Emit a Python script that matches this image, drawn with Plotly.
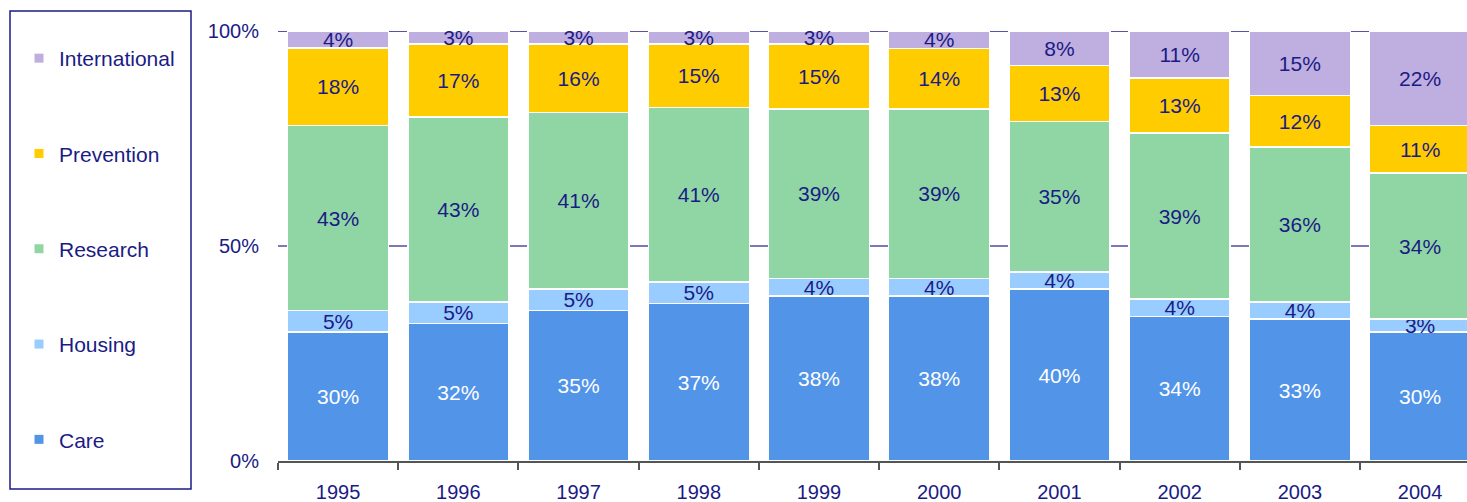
import plotly.graph_objects as go

years = ["1995", "1996", "1997", "1998", "1999", "2000", "2001", "2002", "2003", "2004"]
care = [30, 32, 35, 37, 38, 38, 40, 34, 33, 30]
housing = [5, 5, 5, 5, 4, 4, 4, 4, 4, 3]
research = [43, 43, 41, 41, 39, 39, 35, 39, 36, 34]
prevention = [18, 17, 16, 15, 15, 14, 13, 13, 12, 11]
international = [4, 3, 3, 3, 3, 4, 8, 11, 15, 22]

series_names = ["Care", "Housing", "Research", "Prevention", "International"]
series_values = [care, housing, research, prevention, international]
colors = ["#5294e8", "#99ccff", "#90d6a4", "#ffcc00", "#bfaee0"]
text_colors = ["#ffffff", "#1b1b85", "#1b1b85", "#1b1b85", "#1b1b85"]

NAVY = "#1b1b85"
FONT = "Liberation Sans, Arial, sans-serif"

fig = go.Figure()
for name, vals, col, tcol in zip(series_names, series_values, colors, text_colors):
    fig.add_trace(go.Bar(
        x=years, y=vals, name=name,
        marker=dict(color=col, line=dict(color="white", width=1.5)),
        text=[f"{v}%" for v in vals],
        textposition="inside", insidetextanchor="middle", textangle=0,
        constraintext="none",
        textfont=dict(family=FONT, size=21, color=tcol),
        showlegend=False, hoverinfo="skip",
    ))

# legend entries (small square markers)
for name, col in zip(series_names[::-1], colors[::-1]):
    fig.add_trace(go.Scatter(
        x=[None], y=[None], mode="markers", name=name,
        marker=dict(symbol="square", size=9, color=col),
        legendgroup=name, showlegend=True,
    ))

W, H = 1467, 502
ML, MR, MT, MB = 278, 0, 31, 41
pw = W - ML - MR
ph = H - MT - MB

def px_x(p):
    return (p - ML) / pw

def px_y(p):
    return (H - MB - p) / ph

fig.update_layout(
    width=W, height=H,
    margin=dict(l=ML, r=MR, t=MT, b=MB, autoexpand=False),
    barmode="stack", barnorm="percent", bargap=0.16,
    plot_bgcolor="white", paper_bgcolor="white",
    font=dict(family=FONT, color=NAVY, size=20),
    legend=dict(
        x=px_x(19), y=px_y(38), xanchor="left", yanchor="top",
        traceorder="grouped", tracegroupgap=65, maxheight=480,
        font=dict(family=FONT, size=21, color=NAVY),
        bgcolor="rgba(0,0,0,0)", borderwidth=0,
    ),
    xaxis=dict(
        type="category", range=[-0.5, 9.39],
        showline=True, linecolor="#555555", linewidth=1.5,
        ticks="outside", tickson="boundaries", ticklen=7, tickcolor="#555555", tickwidth=1.5,
        tickfont=dict(family=FONT, size=20, color=NAVY),
        ticklabelstandoff=12,
        showgrid=False, zeroline=False,
    ),
    yaxis=dict(
        range=[0, 100], tickvals=[0, 50, 100], ticktext=["0%", "50%", "100%"],
        showgrid=True, gridcolor="#7a7ab8", gridwidth=1.5,
        zeroline=False, showline=False, ticks="",
        tickfont=dict(family=FONT, size=20, color=NAVY),
        ticklabelstandoff=18,
    ),
    shapes=[
        dict(type="line", xref="paper", yref="y", x0=0, x1=1, y0=100, y1=100,
             line=dict(color=NAVY, width=1.5), layer="below"),
        dict(type="rect", xref="paper", yref="paper",
             x0=px_x(10), x1=px_x(191), y0=px_y(489), y1=px_y(11),
             line=dict(color=NAVY, width=1.5), fillcolor="rgba(0,0,0,0)"),
    ],
)

fig.write_html("out.html", config={"displayModeBar": False},
               post_script="document.body.style.margin='0';")
